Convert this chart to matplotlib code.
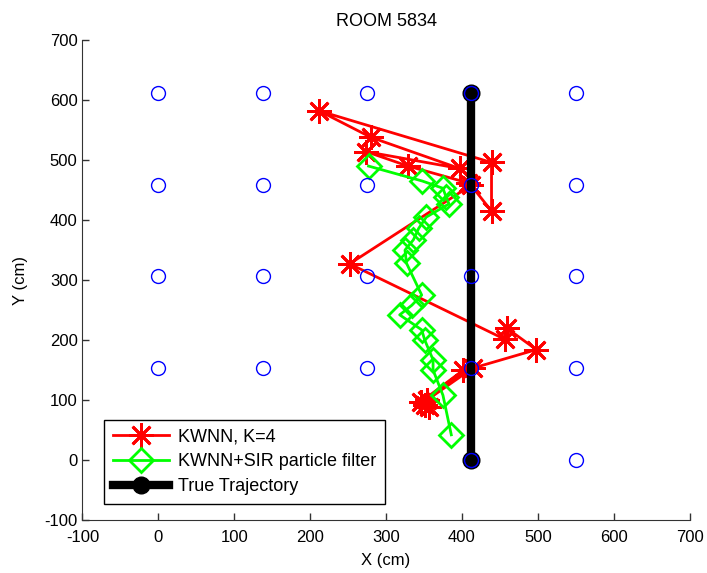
import matplotlib
matplotlib.use("Agg")
import matplotlib.pyplot as plt

plt.rcParams['font.family'] = ['Liberation Sans', 'DejaVu Sans']
plt.rcParams['axes.unicode_minus'] = False

# Reference grid (access points / reference points)
grid_x = [0, 137.5, 275, 412.5, 550]
grid_y = [0, 153, 306, 459, 612]

# KWNN, K=4 estimates
kwnn_x = [352, 357, 346, 402, 354, 414, 498, 459, 457, 252, 412, 439, 439, 212, 280, 397, 274, 329, 408]
kwnn_y = [92, 88, 97, 150, 100, 153, 184, 220, 201, 327, 458, 415, 496, 582, 538, 486, 514, 490, 462]

# KWNN + SIR particle filter estimates
pf_x = [386, 375, 362, 362, 351, 347, 318, 334, 347, 327, 325, 336, 343, 353, 383, 379, 375, 348, 277]
pf_y = [42, 108, 150, 167, 200, 217, 242, 258, 275, 328, 350, 367, 386, 405, 427, 439, 453, 465, 490]

# True trajectory
true_x = [412.5, 412.5]
true_y = [0, 612]

title = "ROOM 5834"
x_ticks = [-100, 0, 100, 200, 300, 400, 500, 600, 700]
y_ticks = [-100, 0, 100, 200, 300, 400, 500, 600, 700]

fig = plt.figure(figsize=(7.07, 5.73), dpi=100)
ax = fig.add_axes([0.1166, 0.0925, 0.8588, 0.8375])

fs = 12

ax.plot(kwnn_x, kwnn_y, color='red', lw=2, marker=(8, 2, 0), ms=18, mew=2,
        label='KWNN, K=4', zorder=2)
ax.plot(pf_x, pf_y, color='#00ff00', lw=2, marker='D', ms=12, mew=2,
        markerfacecolor='none', label='KWNN+SIR particle filter', zorder=3)
ax.plot(true_x, true_y, color='black', lw=6, marker='o', ms=12,
        markerfacecolor='black', label='True Trajectory', zorder=4)

gx = [x for y in grid_y for x in grid_x]
gy = [y for y in grid_y for x in grid_x]
ax.plot(gx, gy, linestyle='none', marker='o', ms=10, mew=1,
        markerfacecolor='none', markeredgecolor='blue', zorder=5)

ax.set_xlim(-100, 700)
ax.set_ylim(-100, 700)
ax.set_xticks(x_ticks)
ax.set_yticks(y_ticks)
ax.tick_params(direction='in', length=5, width=1, labelsize=fs, color='#333333')
ax.tick_params(axis='x', pad=7)
for s in ['top', 'right']:
    ax.spines[s].set_visible(False)
for s in ['left', 'bottom']:
    ax.spines[s].set_color('#333333')

ax.set_title(title, fontsize=13, pad=10)
ax.set_xlabel('X (cm)', fontsize=fs, labelpad=6)
ax.set_ylabel('Y (cm)', fontsize=fs, labelpad=12)

leg = ax.legend(loc='lower left', bbox_to_anchor=(104 / 707, 1 - 504 / 573),
                bbox_transform=fig.transFigure, fontsize=13, frameon=True,
                fancybox=False, edgecolor='black', framealpha=1,
                handlelength=3.1, handletextpad=0.5, labelspacing=0.42,
                borderpad=0.5, borderaxespad=0)
leg.get_frame().set_linewidth(1)

fig.savefig('out.png', dpi=100)
